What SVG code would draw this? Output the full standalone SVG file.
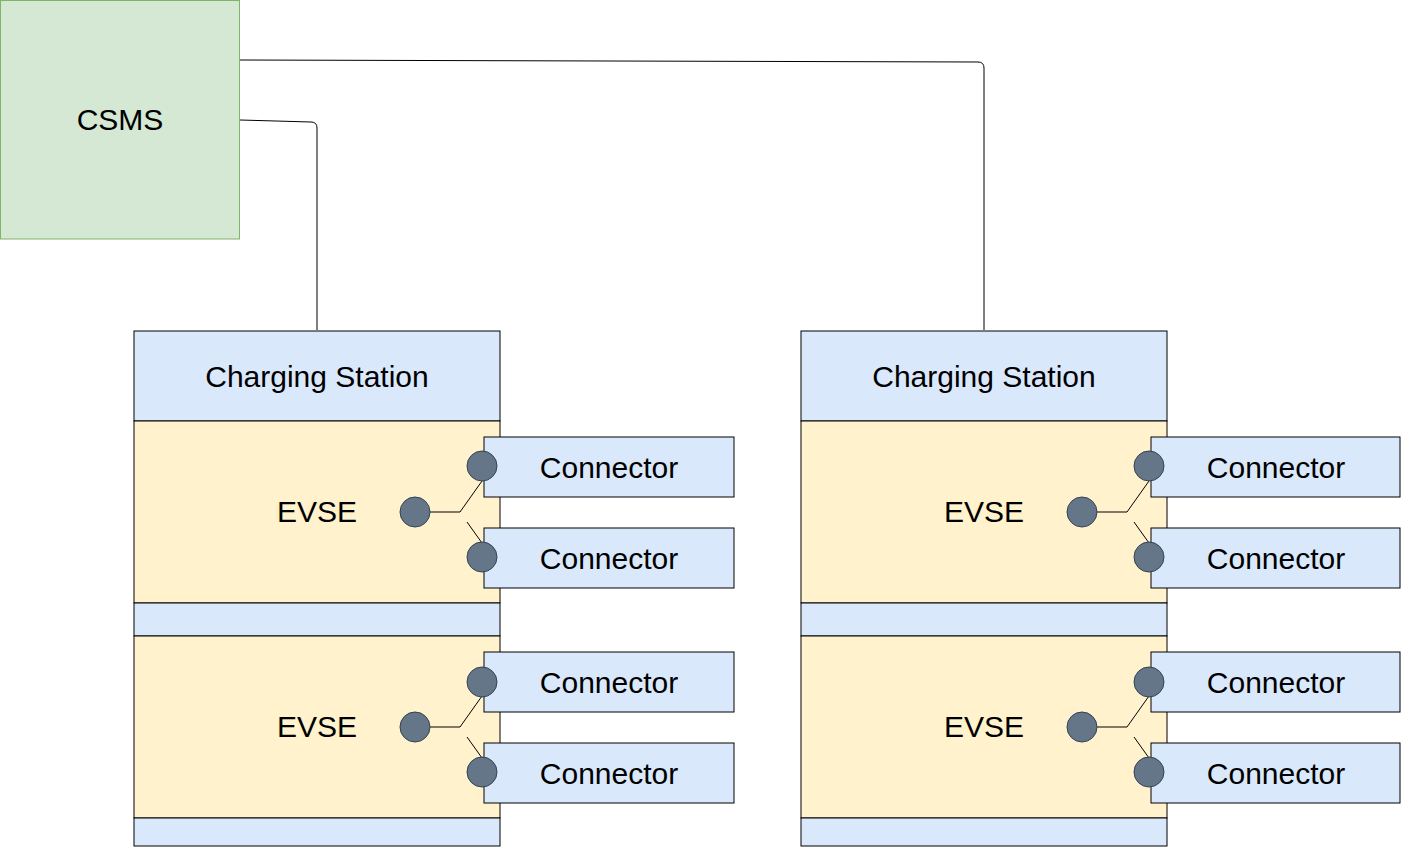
<svg xmlns="http://www.w3.org/2000/svg" width="1402" height="848" viewBox="0 0 1402 848">
<style>
.csms{fill:#d5e8d4;stroke:#82b366;stroke-width:1}
.blue{fill:#dae8fc;stroke:#000000;stroke-width:1}
.yel{fill:#fff2cc;stroke:#000000;stroke-width:1}
.dot{fill:#647687;stroke:#314354;stroke-width:1}
.ln{fill:none;stroke:#000000;stroke-width:1}
.t{font-family:"Liberation Sans",Arial,sans-serif;font-size:30px;fill:#000000;text-anchor:middle}
</style>
<rect width="1402" height="848" fill="#ffffff"/>
<g id="connectors">
<path class="ln" d="M240,60 L978,62 Q984,62 984,68 L984,330"/>
<path class="ln" d="M240,120 L311,122 Q317,122 317,128 L317,330"/>
</g>
<g id="csms">
<rect class="csms" x="0.5" y="0.5" width="239" height="238.5"/>
<text class="t" x="120" y="130">CSMS</text>
</g>
<g id="station-left">
<rect class="blue" x="134" y="331" width="366" height="90"/>
<text class="t" x="317" y="387">Charging Station</text>
<rect class="yel" x="134" y="421" width="366" height="182"/>
<rect class="blue" x="134" y="603" width="366" height="33"/>
<rect class="yel" x="134" y="636" width="366" height="182"/>
<rect class="blue" x="134" y="818" width="366" height="28"/>
<text class="t" x="317" y="522">EVSE</text>
<text class="t" x="317" y="737">EVSE</text>
</g>
<g id="conn-l1"><rect class="blue" x="484" y="437" width="250" height="60"/><text class="t" x="609" y="478">Connector</text></g>
<g id="conn-l2"><rect class="blue" x="484" y="528" width="250" height="60"/><text class="t" x="609" y="569">Connector</text></g>
<g id="conn-l3"><rect class="blue" x="484" y="652" width="250" height="60"/><text class="t" x="609" y="693">Connector</text></g>
<g id="conn-l4"><rect class="blue" x="484" y="743" width="250" height="60"/><text class="t" x="609" y="784">Connector</text></g>
<g id="switch-l1">
<path class="ln" d="M430,512 L460,512 L482,481 M467,522 L482,543"/>
<circle class="dot" cx="415" cy="512" r="15"/>
<circle class="dot" cx="482" cy="466" r="15"/>
<circle class="dot" cx="482" cy="557" r="15"/>
</g>
<g id="switch-l2">
<path class="ln" d="M430,727 L460,727 L482,696 M467,737 L482,758"/>
<circle class="dot" cx="415" cy="727" r="15"/>
<circle class="dot" cx="482" cy="682" r="15"/>
<circle class="dot" cx="482" cy="772" r="15"/>
</g>
<g id="station-right">
<rect class="blue" x="801" y="331" width="366" height="90"/>
<text class="t" x="984" y="387">Charging Station</text>
<rect class="yel" x="801" y="421" width="366" height="182"/>
<rect class="blue" x="801" y="603" width="366" height="33"/>
<rect class="yel" x="801" y="636" width="366" height="182"/>
<rect class="blue" x="801" y="818" width="366" height="28"/>
<text class="t" x="984" y="522">EVSE</text>
<text class="t" x="984" y="737">EVSE</text>
</g>
<g id="conn-r1"><rect class="blue" x="1151" y="437" width="249" height="60"/><text class="t" x="1276" y="478">Connector</text></g>
<g id="conn-r2"><rect class="blue" x="1151" y="528" width="249" height="60"/><text class="t" x="1276" y="569">Connector</text></g>
<g id="conn-r3"><rect class="blue" x="1151" y="652" width="249" height="60"/><text class="t" x="1276" y="693">Connector</text></g>
<g id="conn-r4"><rect class="blue" x="1151" y="743" width="249" height="60"/><text class="t" x="1276" y="784">Connector</text></g>
<g id="switch-r1">
<path class="ln" d="M1097,512 L1127,512 L1149,481 M1134,522 L1149,543"/>
<circle class="dot" cx="1082" cy="512" r="15"/>
<circle class="dot" cx="1149" cy="466" r="15"/>
<circle class="dot" cx="1149" cy="557" r="15"/>
</g>
<g id="switch-r2">
<path class="ln" d="M1097,727 L1127,727 L1149,696 M1134,737 L1149,758"/>
<circle class="dot" cx="1082" cy="727" r="15"/>
<circle class="dot" cx="1149" cy="682" r="15"/>
<circle class="dot" cx="1149" cy="772" r="15"/>
</g>
</svg>
